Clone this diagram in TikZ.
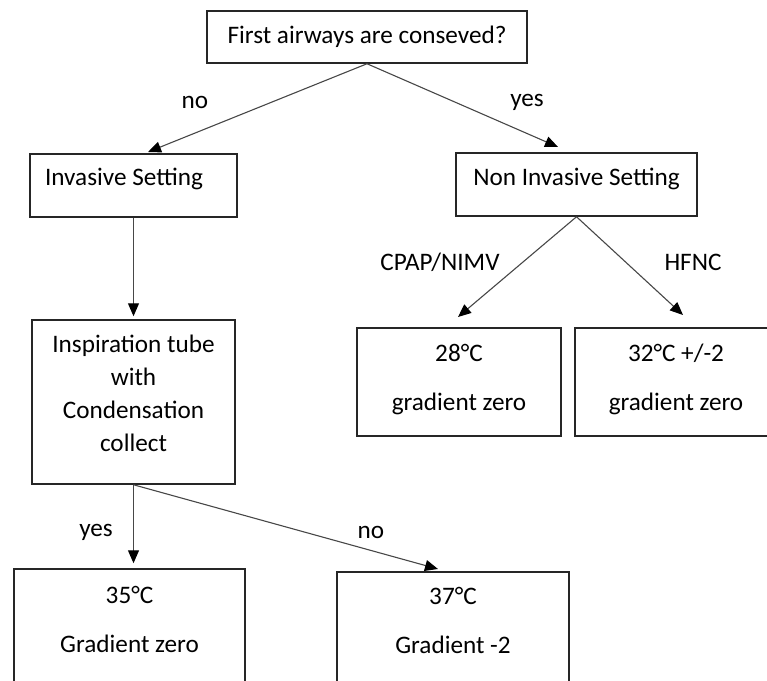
\documentclass[tikz,border=0pt]{standalone}
\usepackage{fontspec}
\setmainfont{Carlito}
\usetikzlibrary{arrows.meta}

\newcommand{\rows}[1]{\begin{tabular}[t]{@{}c@{}}#1\end{tabular}}

\begin{document}
\begin{tikzpicture}[x=1pt, y=-1pt,
  box/.style={draw=black!85, line width=1.5pt, inner sep=0pt, anchor=base,
    font=\fontsize{25.2}{30}\selectfont},
  arr/.style={draw=black!72, line width=1.1pt,
    -{Triangle[length=13pt,width=11pt,fill=black,color=black]}},
  lbl/.style={font=\fontsize{25.2}{30}\selectfont, inner sep=0pt}]
  \useasboundingbox (0,0) rectangle (767,680);
  \clip (0,0) rectangle (767,680);
  % first question
  \node[box, minimum width=320pt, text height=32pt, text depth=20pt] (ask) at (367,43)
    {First airways are conseved?};
  % two settings
  \node[box, minimum width=207pt, text height=31pt, text depth=32pt] (inv) at (133.5,185)
    {\makebox[177pt][l]{Invasive Setting}};
  \node[box, minimum width=241pt, text height=32pt, text depth=31pt] (nonInv) at (576.5,185)
    {Non Invasive Setting};
  % invasive branch
  \node[box, minimum width=203pt, text height=32pt, text depth=132pt] (insp) at (133.5,352)
    {\rows{Inspiration tube\\[3pt] with\\[3pt] Condensation\\[3pt] collect}};
  \node[box, minimum width=231pt, text height=34pt, text depth=140pt] (warm) at (129.5,603)
    {\rows{35°C\\[19pt] Gradient zero}};
  \node[box, minimum width=232pt, text height=32pt, text depth=140pt] (hot) at (453,604)
    {\rows{37°C\\[19pt] Gradient -2}};
  % non invasive branch
  \node[box, minimum width=204pt, text height=33pt, text depth=75pt] (low) at (459,361)
    {\rows{28°C\\[19pt] gradient zero}};
  \node[box, minimum width=202pt, text height=33pt, text depth=75pt] (hfnc) at (676,361)
    {\rows{32°C +/-2\\[19pt] gradient zero}};
  % arrow ends
  \coordinate (noTip) at (148,152);
  \coordinate (yesTip) at (558,147);
  \coordinate (cpapTip) at (458,317);
  \coordinate (hfncTip) at (683,315);
  \coordinate (condNoTip) at (438,569);
  % connectors
  \draw[arr] (ask.south) -- (noTip);
  \draw[arr] (ask.south) -- (yesTip);
  \draw[arr, shorten >=3pt] (inv) -- (insp);
  \draw[arr] (nonInv.south) -- (cpapTip);
  \draw[arr] (nonInv.south) -- (hfncTip);
  \draw[arr, shorten >=5pt] (insp.south) -- (insp.south |- warm.north);
  \draw[arr] (insp.south) -- (condNoTip);
  % labels
  \node[lbl] (noTop) at (195,102) {no};
  \node[lbl] (yesTop) at (527,102) {yes};
  \node[lbl] (cpapLbl) at (440,262) {CPAP/NIMV};
  \node[lbl] (hfncLbl) at (693,262) {HFNC};
  \node[lbl] (yesLow) at (96,532) {yes};
  \node[lbl] (noLow) at (371,532) {no};
\end{tikzpicture}
\end{document}
